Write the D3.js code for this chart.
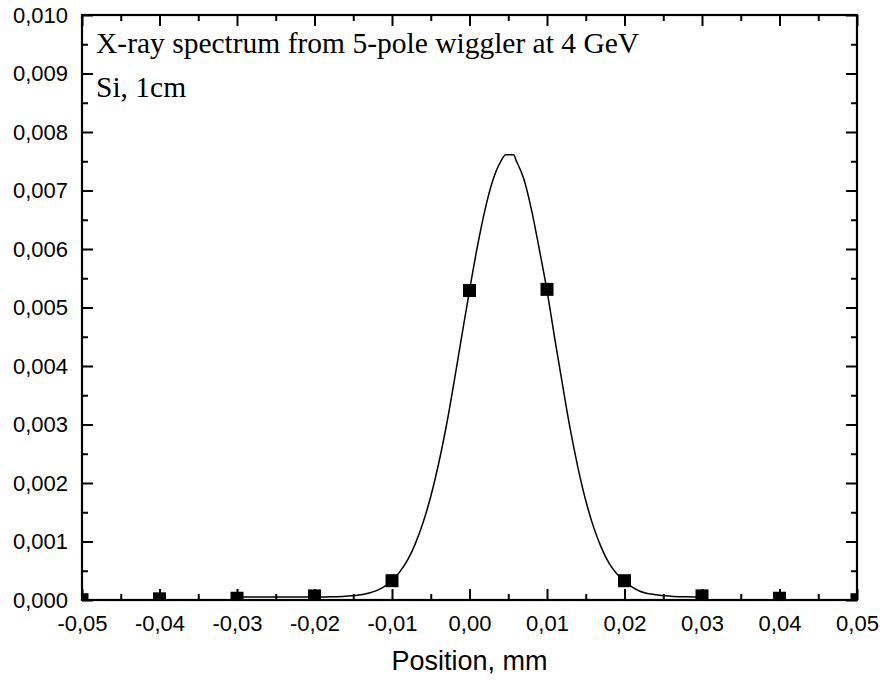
<!DOCTYPE html>
<html>
<head>
<meta charset="utf-8">
<script src="https://cdn.jsdelivr.net/npm/d3@7"></script>
<style>
  html, body { margin: 0; padding: 0; background: #fff; }
  svg { display: block; }
</style>
</head>
<body>
<svg id="chart" width="882" height="680"></svg>
<script>
// ---- data ----
const xTickValues = [-0.05, -0.04, -0.03, -0.02, -0.01, 0.00, 0.01, 0.02, 0.03, 0.04, 0.05];
const xTickLabels = ["-0,05", "-0,04", "-0,03", "-0,02", "-0,01", "0,00", "0,01", "0,02", "0,03", "0,04", "0,05"];
const yTickValues = [0, 0.001, 0.002, 0.003, 0.004, 0.005, 0.006, 0.007, 0.008, 0.009, 0.010];
const yTickLabels = ["0,000", "0,001", "0,002", "0,003", "0,004", "0,005", "0,006", "0,007", "0,008", "0,009", "0,010"];

const pointX = [-0.05, -0.04, -0.03, -0.02, -0.01, 0.00, 0.01, 0.02, 0.03, 0.04, 0.05];
const pointY = [0.000005, 0.00002, 0.00003, 0.00007, 0.00033, 0.00529, 0.00531, 0.00033, 0.00007, 0.00003, 0.000005];

const curveX = [-0.030, -0.028, -0.026, -0.024, -0.022, -0.020, -0.018, -0.016, -0.014, -0.012, -0.011,
  -0.010, -0.009, -0.008, -0.007, -0.006, -0.005, -0.004, -0.003, -0.002, -0.001,
  0.000, 0.001, 0.002, 0.003, 0.004, 0.0047, 0.0057, 0.006, 0.007, 0.008, 0.009,
  0.010, 0.011, 0.012, 0.013, 0.014, 0.015, 0.016, 0.017, 0.018, 0.019,
  0.020, 0.021, 0.022, 0.024, 0.026, 0.028, 0.030];
const curveY = [0.00005, 0.00005, 0.00005, 0.00005, 0.00005, 0.00005, 0.000055, 0.000065, 0.00009, 0.00016, 0.00023,
  0.00033, 0.00048, 0.00068, 0.00096, 0.00132, 0.00177, 0.00232, 0.00297, 0.00372, 0.00451,
  0.00529, 0.00603, 0.00667, 0.00717, 0.00749, 0.00761, 0.00761, 0.00752, 0.00720, 0.00667, 0.00600,
  0.00529, 0.00447, 0.00368, 0.00292, 0.00226, 0.00170, 0.00125, 0.00090, 0.00063, 0.00045,
  0.00033, 0.00022, 0.00015, 0.00009, 0.000065, 0.000055, 0.00005];

const xMinorTicks = [-0.045, -0.035, -0.025, -0.015, -0.005, 0.005, 0.015, 0.025, 0.035, 0.045];
const yMinorTicks = [0.0005, 0.0015, 0.0025, 0.0035, 0.0045, 0.0055, 0.0065, 0.0075, 0.0085, 0.0095];

const annotationLines = ["X-ray spectrum from 5-pole wiggler at 4 GeV", "Si, 1cm"];
const xTitle = "Position, mm";

// ---- layout ----
const L = 82, R = 857, T = 15, B = 600;
const svg = d3.select("#chart");
const x = d3.scaleLinear().domain([-0.05, 0.05]).range([L, R]);
const y = d3.scaleLinear().domain([0, 0.010]).range([B, T]);

const sansFont = "'Liberation Sans', Arial, sans-serif";
const serifFont = "'Liberation Serif', 'Times New Roman', serif";

svg.append("defs").append("clipPath").attr("id", "plotclip")
  .append("rect").attr("x", L).attr("y", T).attr("width", R - L).attr("height", B - T);

const plot = svg.append("g").attr("clip-path", "url(#plotclip)");

// curve
const line = d3.line().x((d, i) => x(curveX[i])).y((d, i) => y(curveY[i])).curve(d3.curveMonotoneX);
plot.append("path").datum(curveX).attr("d", line)
  .attr("fill", "none").attr("stroke", "#000").attr("stroke-width", 1.5);

// markers
const ms = 13;
plot.selectAll("rect.pt").data(pointX).enter().append("rect").attr("class", "pt")
  .attr("x", (d) => x(d) - ms / 2)
  .attr("y", (d, i) => y(pointY[i]) - ms / 2)
  .attr("width", ms).attr("height", ms).attr("fill", "#000");

// axes
const majLen = 11, minLen = 6;
function styleAxis(g) {
  g.select(".domain").remove();
  g.selectAll(".tick line").attr("stroke", "#000").attr("stroke-width", 2);
}
// bottom
const axB = svg.append("g").attr("transform", `translate(0,${B})`)
  .call(d3.axisBottom(x).tickValues(xTickValues).tickSize(-majLen).tickPadding(15)
    .tickFormat((d, i) => xTickLabels[i]));
styleAxis(axB);
axB.selectAll("text").attr("font-family", sansFont).attr("font-size", 22).attr("fill", "#000").attr("dy", "0.71em");
svg.append("g").attr("transform", `translate(0,${B})`)
  .call(d3.axisBottom(x).tickValues(xMinorTicks).tickSize(-minLen).tickFormat(""))
  .call(styleAxis);
// top
svg.append("g").attr("transform", `translate(0,${T})`)
  .call(d3.axisTop(x).tickValues(xTickValues).tickSize(-majLen).tickFormat("")).call(styleAxis);
svg.append("g").attr("transform", `translate(0,${T})`)
  .call(d3.axisTop(x).tickValues(xMinorTicks).tickSize(-minLen).tickFormat("")).call(styleAxis);
// left
const axL = svg.append("g").attr("transform", `translate(${L},0)`)
  .call(d3.axisLeft(y).tickValues(yTickValues).tickSize(-majLen).tickPadding(14)
    .tickFormat((d, i) => yTickLabels[i]));
styleAxis(axL);
axL.selectAll("text").attr("font-family", sansFont).attr("font-size", 22).attr("fill", "#000");
svg.append("g").attr("transform", `translate(${L},0)`)
  .call(d3.axisLeft(y).tickValues(yMinorTicks).tickSize(-minLen).tickFormat("")).call(styleAxis);
// right
svg.append("g").attr("transform", `translate(${R},0)`)
  .call(d3.axisRight(y).tickValues(yTickValues).tickSize(-majLen).tickFormat("")).call(styleAxis);
svg.append("g").attr("transform", `translate(${R},0)`)
  .call(d3.axisRight(y).tickValues(yMinorTicks).tickSize(-minLen).tickFormat("")).call(styleAxis);

// frame
svg.append("rect").attr("x", L).attr("y", T).attr("width", R - L).attr("height", B - T)
  .attr("fill", "none").attr("stroke", "#000").attr("stroke-width", 2.2);

// annotation
svg.append("g").selectAll("text").data(annotationLines).enter().append("text")
  .attr("x", 96).attr("y", (d, i) => 53 + i * 44)
  .attr("font-family", serifFont).attr("font-size", 29.5).attr("fill", "#000")
  .text(d => d);

// x title
svg.append("text").attr("x", (L + R) / 2).attr("y", 670)
  .attr("text-anchor", "middle").attr("font-family", sansFont).attr("font-size", 27)
  .attr("fill", "#000").text(xTitle);
</script>
</body>
</html>
